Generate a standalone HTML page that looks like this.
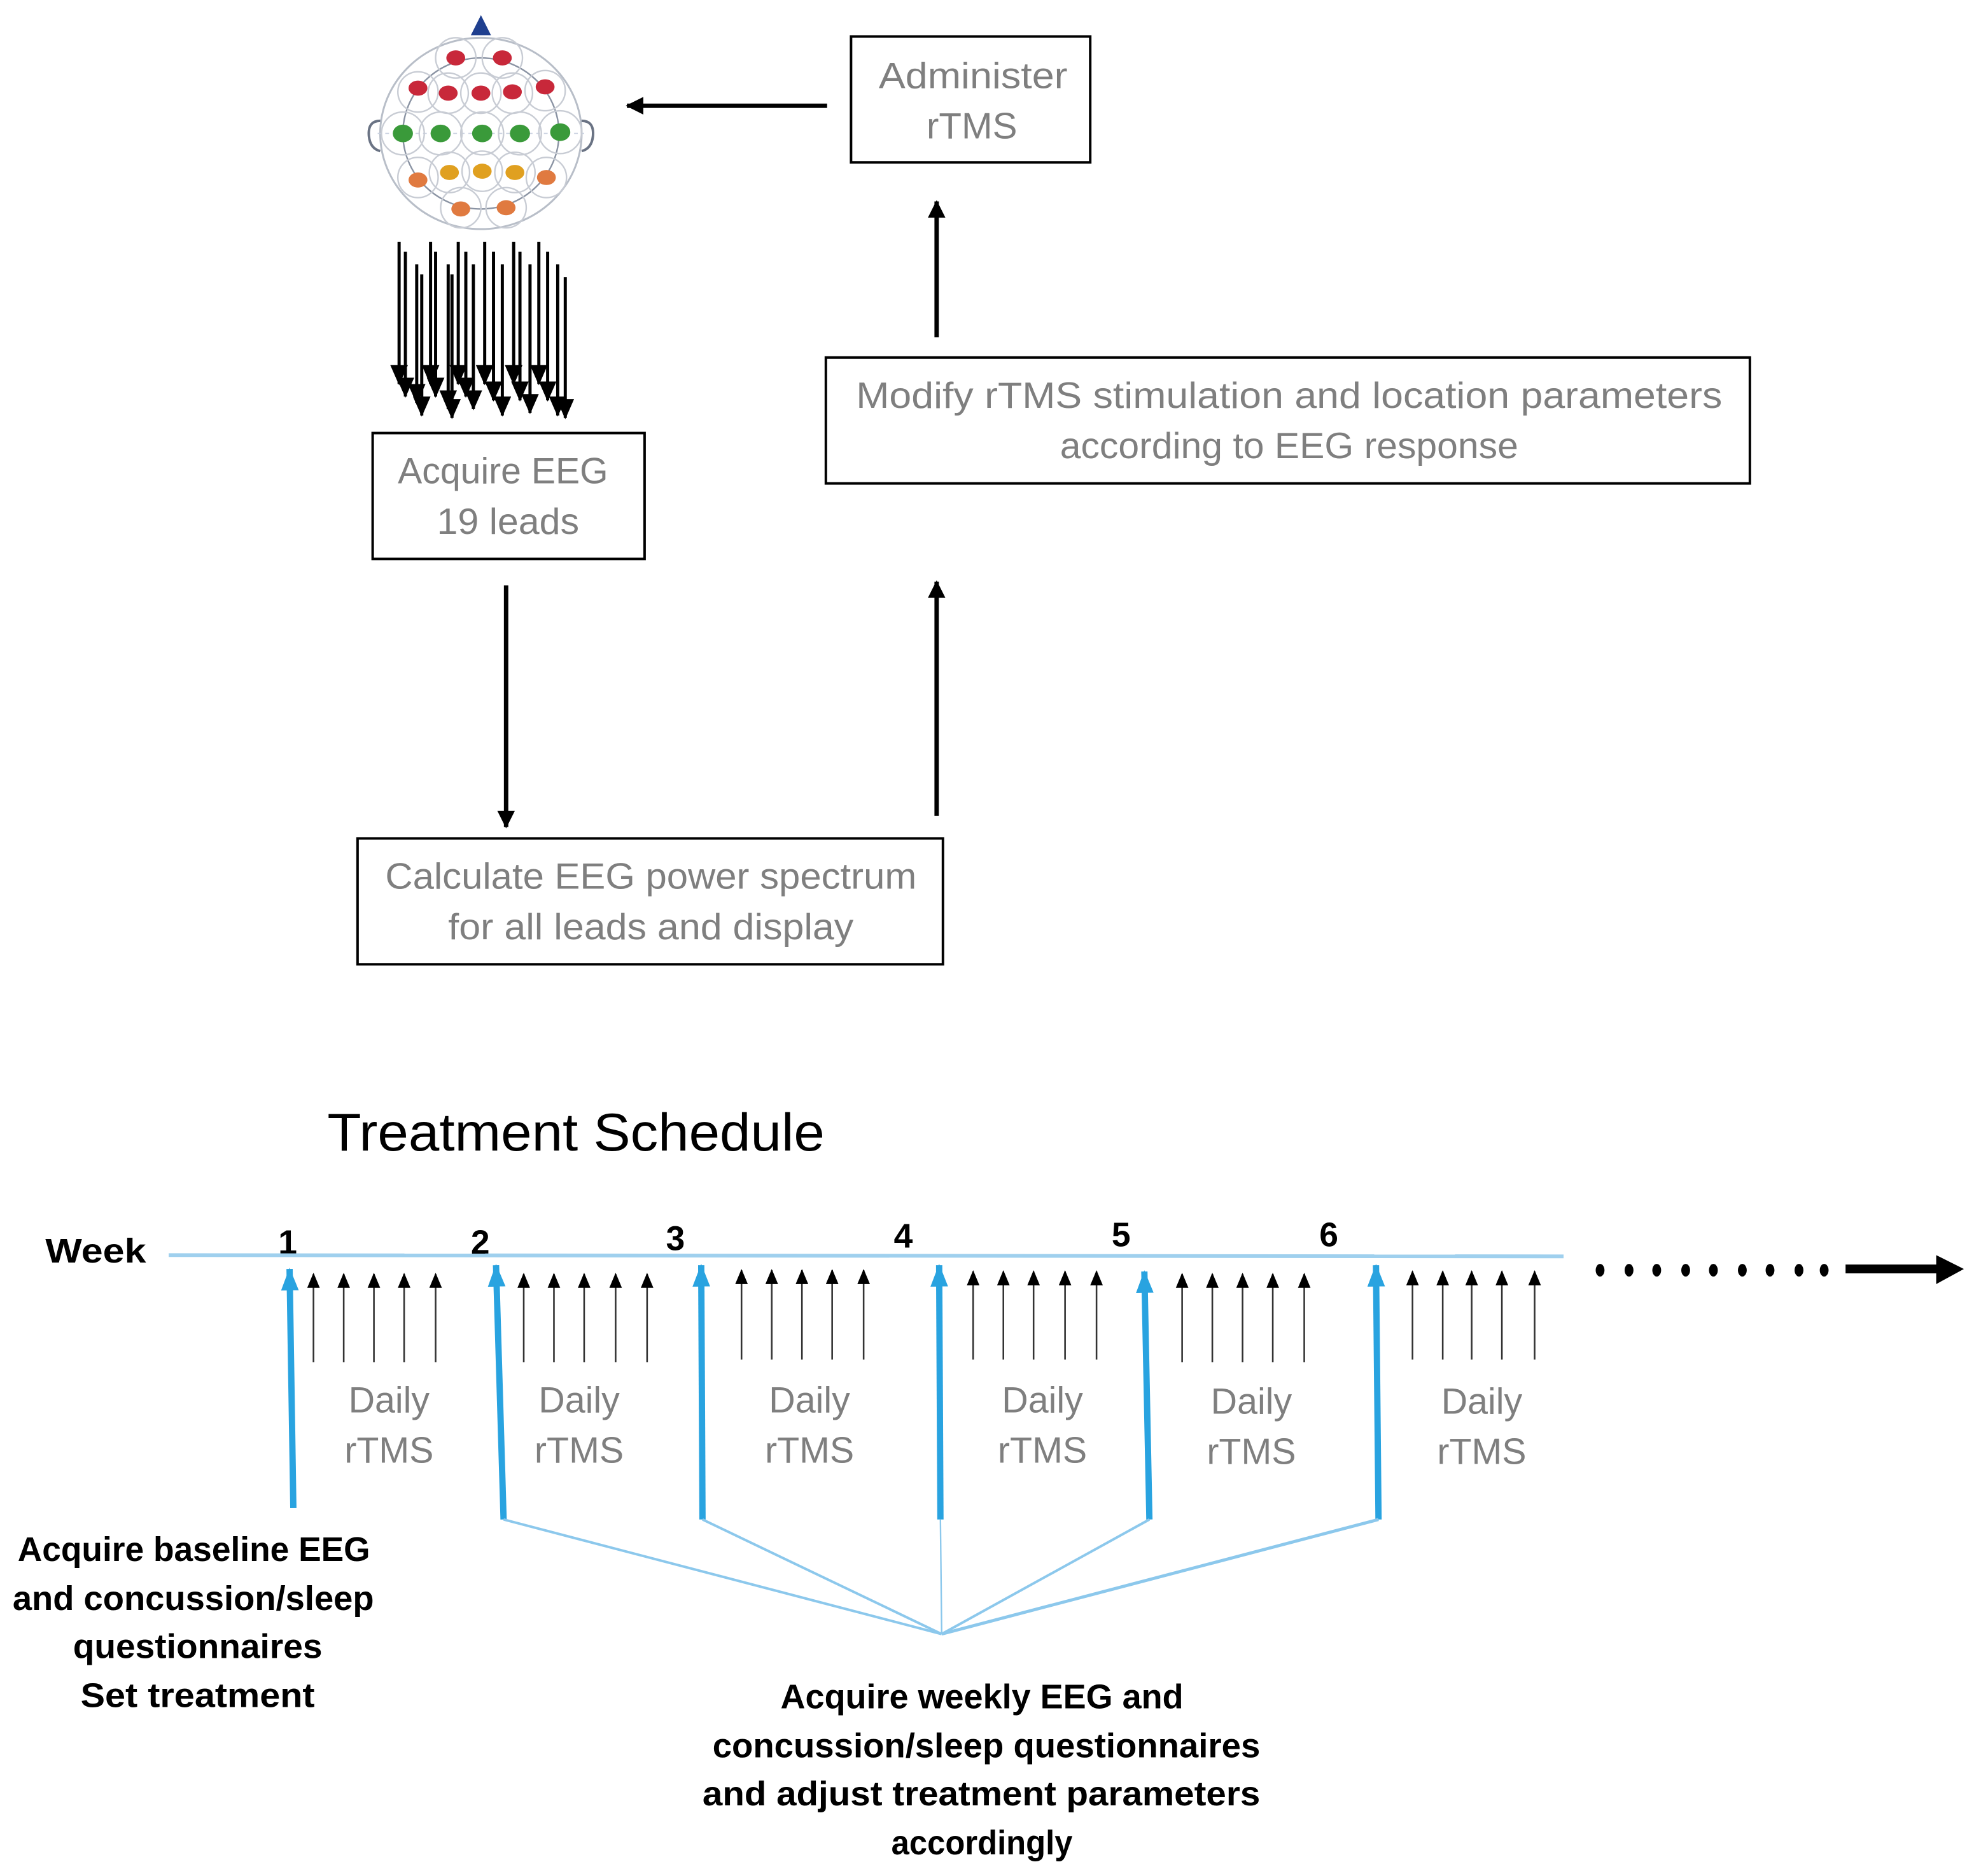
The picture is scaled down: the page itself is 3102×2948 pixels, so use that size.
<!DOCTYPE html>
<html><head><meta charset="utf-8"><style>
html,body{margin:0;padding:0;background:#fff}
svg{display:block}
.g{font-family:"Liberation Sans",sans-serif;fill:#7f7f7f;font-size:29px}
.b{font-family:"Liberation Sans",sans-serif;fill:#000;font-weight:bold;font-size:27px}
</style></head><body>
<svg width="3102" height="2948" viewBox="0 0 1568 1490.2" xmlns="http://www.w3.org/2000/svg">
<defs>
<marker id="ah" markerWidth="12" markerHeight="10" refX="11" refY="5" orient="auto" markerUnits="userSpaceOnUse"><path d="M0,0 L12,5 L0,10 z" fill="#000"/></marker>
<marker id="ahb" markerWidth="14" markerHeight="14" refX="13" refY="7" orient="auto" markerUnits="userSpaceOnUse"><path d="M0,0 L14,7 L0,14 z" fill="#000"/></marker>
<marker id="ahs" markerWidth="16" markerHeight="14" refX="15" refY="7" orient="auto" markerUnits="userSpaceOnUse"><path d="M0,0 L16,7 L0,14 z" fill="#000"/></marker>
<marker id="ahc" markerWidth="18" markerHeight="14" refX="17" refY="7" orient="auto" markerUnits="userSpaceOnUse"><path d="M0,0 L18,7 L0,14 z" fill="#29a3e0"/></marker>
</defs>

<!-- Head -->
<polygon points="382,12 374,28 390,28" fill="#1f3f8f"/>
<ellipse cx="382" cy="106" rx="80" ry="76" fill="none" stroke="#b8bec8" stroke-width="1.5"/>
<ellipse cx="382" cy="106" rx="62" ry="60" fill="none" stroke="#8a93a3" stroke-width="1.2"/>
<path d="M302,96 q-10,0 -9,12 q1,10 9,12" fill="none" stroke="#6a7384" stroke-width="2"/>
<path d="M462,96 q10,0 9,12 q-1,10 -9,12" fill="none" stroke="#6a7384" stroke-width="2"/>
<line x1="300" y1="106" x2="464" y2="106" stroke="#c8d0e0" stroke-width="1" stroke-dasharray="3,3"/>
<g fill="none" stroke="#c8ccd4" stroke-width="1.2">
<circle cx="362" cy="46" r="16"/><circle cx="399" cy="46" r="16"/>
<circle cx="332" cy="73" r="16"/><circle cx="356" cy="74" r="16"/><circle cx="382" cy="74" r="16"/><circle cx="407" cy="74" r="16"/><circle cx="433" cy="72" r="16"/>
<circle cx="320" cy="106" r="17"/><circle cx="350" cy="106" r="17"/><circle cx="383" cy="106" r="17"/><circle cx="413" cy="106" r="17"/><circle cx="445" cy="105" r="17"/>
<circle cx="332" cy="141" r="16"/><circle cx="357" cy="137" r="16"/><circle cx="383" cy="136" r="16"/><circle cx="409" cy="137" r="16"/><circle cx="434" cy="141" r="16"/>
<circle cx="366" cy="165" r="16"/><circle cx="402" cy="165" r="16"/>
</g>
<g fill="#c8283a"><ellipse cx="362" cy="46" rx="7.5" ry="6"/><ellipse cx="399" cy="46" rx="7.5" ry="6"/>
<ellipse cx="332" cy="70" rx="7.5" ry="6"/><ellipse cx="356" cy="74" rx="7.5" ry="6"/><ellipse cx="382" cy="74" rx="7.5" ry="6"/><ellipse cx="407" cy="73" rx="7.5" ry="6"/><ellipse cx="433" cy="69" rx="7.5" ry="6"/></g>
<g fill="#3a9a3a"><ellipse cx="320" cy="106" rx="8" ry="7"/><ellipse cx="350" cy="106" rx="8" ry="7"/><ellipse cx="383" cy="106" rx="8" ry="7"/><ellipse cx="413" cy="106" rx="8" ry="7"/><ellipse cx="445" cy="105" rx="8" ry="7"/></g>
<g fill="#e07a40"><ellipse cx="332" cy="143" rx="7.5" ry="6"/><ellipse cx="434" cy="141" rx="7.5" ry="6"/><ellipse cx="366" cy="166" rx="7.5" ry="6"/><ellipse cx="402" cy="165" rx="7.5" ry="6"/></g>
<g fill="#e0a020"><ellipse cx="357" cy="137" rx="7.5" ry="6"/><ellipse cx="383" cy="136" rx="7.5" ry="6"/><ellipse cx="409" cy="137" rx="7.5" ry="6"/></g>

<!-- down arrow cluster -->
<g stroke="#000" stroke-width="2.5" marker-end="url(#ahs)">
<line x1="317" y1="192" x2="317" y2="305"/><line x1="322" y1="200" x2="322" y2="315"/>
<line x1="331" y1="210" x2="331" y2="320"/><line x1="335" y1="218" x2="335" y2="330"/>
<line x1="342" y1="192" x2="342" y2="305"/><line x1="346" y1="200" x2="346" y2="315"/>
<line x1="356" y1="210" x2="356" y2="325"/><line x1="359" y1="218" x2="359" y2="332"/>
<line x1="364" y1="192" x2="364" y2="305"/><line x1="370" y1="200" x2="370" y2="315"/>
<line x1="376" y1="210" x2="376" y2="325"/><line x1="385" y1="192" x2="385" y2="305"/>
<line x1="392" y1="200" x2="392" y2="318"/><line x1="399" y1="210" x2="399" y2="330"/>
<line x1="408" y1="192" x2="408" y2="305"/><line x1="413" y1="200" x2="413" y2="318"/>
<line x1="421" y1="210" x2="421" y2="328"/><line x1="428" y1="192" x2="428" y2="305"/>
<line x1="435" y1="200" x2="435" y2="318"/><line x1="443" y1="210" x2="443" y2="330"/>
<line x1="449" y1="220" x2="449" y2="332"/>
</g>

<!-- boxes -->
<g fill="none" stroke="#000" stroke-width="2">
<rect x="676" y="29" width="190" height="100"/>
<rect x="656" y="284" width="734" height="100"/>
<rect x="296" y="344" width="216" height="100"/>
<rect x="284" y="666" width="465" height="100"/>
</g>
<text class="g" x="698" y="70" textLength="150" lengthAdjust="spacingAndGlyphs">Administer</text>
<text class="g" x="736" y="110" textLength="72" lengthAdjust="spacingAndGlyphs">rTMS</text>
<text class="g" x="680" y="324" textLength="688" lengthAdjust="spacingAndGlyphs">Modify rTMS stimulation and location parameters</text>
<text class="g" x="842" y="364" textLength="364" lengthAdjust="spacingAndGlyphs">according to EEG response</text>
<text class="g" x="316" y="384" textLength="167" lengthAdjust="spacingAndGlyphs">Acquire EEG</text>
<text class="g" x="347" y="424" textLength="113" lengthAdjust="spacingAndGlyphs">19 leads</text>
<text class="g" x="306" y="706" textLength="422" lengthAdjust="spacingAndGlyphs">Calculate EEG power spectrum</text>
<text class="g" x="356" y="746" textLength="322" lengthAdjust="spacingAndGlyphs">for all leads and display</text>

<!-- flow arrows -->
<g stroke="#000" stroke-width="3.5" marker-end="url(#ahb)">
<line x1="657" y1="84" x2="498" y2="84"/>
<line x1="744" y1="268" x2="744" y2="160"/>
<line x1="402" y1="465" x2="402" y2="657"/>
<line x1="744" y1="648" x2="744" y2="462"/>
</g>

<!-- Treatment schedule -->
<text x="260" y="914" font-family="Liberation Sans,sans-serif" font-size="42" fill="#000" textLength="395" lengthAdjust="spacingAndGlyphs">Treatment Schedule</text>
<text class="b" x="36" y="1003" textLength="80" lengthAdjust="spacingAndGlyphs">Week</text>
<g class="b" font-size="26">
<text x="221" y="996">1</text><text x="374" y="996">2</text><text x="529" y="993">3</text>
<text x="710" y="991">4</text><text x="883" y="990">5</text><text x="1048" y="990">6</text>
</g>
<line x1="134" y1="997" x2="1242" y2="998" stroke="#9fd0ee" stroke-width="3"/>
<g fill="#000">
<ellipse cx="1271" cy="1009" rx="3.5" ry="5"/><ellipse cx="1294" cy="1009" rx="3.5" ry="5"/><ellipse cx="1316" cy="1009" rx="3.5" ry="5"/><ellipse cx="1339" cy="1009" rx="3.5" ry="5"/><ellipse cx="1361" cy="1009" rx="3.5" ry="5"/><ellipse cx="1384" cy="1009" rx="3.5" ry="5"/><ellipse cx="1406" cy="1009" rx="3.5" ry="5"/><ellipse cx="1429" cy="1009" rx="3.5" ry="5"/><ellipse cx="1449" cy="1009" rx="3.5" ry="5"/>
</g>
<line x1="1466" y1="1008" x2="1540" y2="1008" stroke="#000" stroke-width="7"/>
<polygon points="1538,997 1560,1008 1538,1020" fill="#000"/>

<!-- blue arrows -->
<g stroke="#29a3e0" stroke-width="5" marker-end="url(#ahc)">
<line x1="233" y1="1198" x2="230" y2="1008"/>
<line x1="400" y1="1207" x2="394" y2="1005"/>
<line x1="558" y1="1207" x2="557" y2="1005"/>
<line x1="747" y1="1207" x2="746" y2="1005"/>
<line x1="913" y1="1207" x2="909" y2="1010"/>
<line x1="1095" y1="1207" x2="1093" y2="1005"/>
</g>
<g stroke="#8cc8ec" stroke-width="2" fill="none">
<line x1="400" y1="1207" x2="748" y2="1298"/>
<line x1="558" y1="1207" x2="748" y2="1298"/>
<line x1="747" y1="1207" x2="748" y2="1298" stroke-width="1.2"/>
<line x1="913" y1="1207" x2="748" y2="1298"/>
<line x1="1095" y1="1207" x2="748" y2="1298" stroke-width="2.5"/>
</g>

<!-- daily arrows -->
<g stroke="#333" stroke-width="1.3" marker-end="url(#ah)">
<line x1="249" y1="1082" x2="249" y2="1012"/><line x1="273" y1="1082" x2="273" y2="1012"/><line x1="297" y1="1082" x2="297" y2="1012"/><line x1="321" y1="1082" x2="321" y2="1012"/><line x1="346" y1="1082" x2="346" y2="1012"/>
<line x1="416" y1="1082" x2="416" y2="1012"/><line x1="440" y1="1082" x2="440" y2="1012"/><line x1="464" y1="1082" x2="464" y2="1012"/><line x1="489" y1="1082" x2="489" y2="1012"/><line x1="514" y1="1082" x2="514" y2="1012"/>
<line x1="589" y1="1080" x2="589" y2="1009"/><line x1="613" y1="1080" x2="613" y2="1009"/><line x1="637" y1="1080" x2="637" y2="1009"/><line x1="661" y1="1080" x2="661" y2="1009"/><line x1="686" y1="1080" x2="686" y2="1009"/>
<line x1="773" y1="1080" x2="773" y2="1010"/><line x1="797" y1="1080" x2="797" y2="1010"/><line x1="821" y1="1080" x2="821" y2="1010"/><line x1="846" y1="1080" x2="846" y2="1010"/><line x1="871" y1="1080" x2="871" y2="1010"/>
<line x1="939" y1="1082" x2="939" y2="1012"/><line x1="963" y1="1082" x2="963" y2="1012"/><line x1="987" y1="1082" x2="987" y2="1012"/><line x1="1011" y1="1082" x2="1011" y2="1012"/><line x1="1036" y1="1082" x2="1036" y2="1012"/>
<line x1="1122" y1="1080" x2="1122" y2="1010"/><line x1="1146" y1="1080" x2="1146" y2="1010"/><line x1="1169" y1="1080" x2="1169" y2="1010"/><line x1="1193" y1="1080" x2="1193" y2="1010"/><line x1="1219" y1="1080" x2="1219" y2="1010"/>
</g>

<g class="g" text-anchor="middle">
<text x="309" y="1122">Daily</text><text x="309" y="1162">rTMS</text>
<text x="460" y="1122">Daily</text><text x="460" y="1162">rTMS</text>
<text x="643" y="1122">Daily</text><text x="643" y="1162">rTMS</text>
<text x="828" y="1122">Daily</text><text x="828" y="1162">rTMS</text>
<text x="994" y="1123">Daily</text><text x="994" y="1163">rTMS</text>
<text x="1177" y="1123">Daily</text><text x="1177" y="1163">rTMS</text>
</g>

<text class="b" x="14" y="1240" textLength="280" lengthAdjust="spacingAndGlyphs">Acquire baseline EEG</text>
<text class="b" x="10" y="1279" textLength="287" lengthAdjust="spacingAndGlyphs">and concussion/sleep</text>
<text class="b" x="58" y="1317" textLength="198" lengthAdjust="spacingAndGlyphs">questionnaires</text>
<text class="b" x="64" y="1356" textLength="186" lengthAdjust="spacingAndGlyphs">Set treatment</text>

<text class="b" x="620" y="1357" textLength="320" lengthAdjust="spacingAndGlyphs">Acquire weekly EEG and</text>
<text class="b" x="566" y="1396" textLength="435" lengthAdjust="spacingAndGlyphs">concussion/sleep questionnaires</text>
<text class="b" x="558" y="1434" textLength="443" lengthAdjust="spacingAndGlyphs">and adjust treatment parameters</text>
<text class="b" x="708" y="1473" textLength="144" lengthAdjust="spacingAndGlyphs">accordingly</text>
</svg>
</body></html>
